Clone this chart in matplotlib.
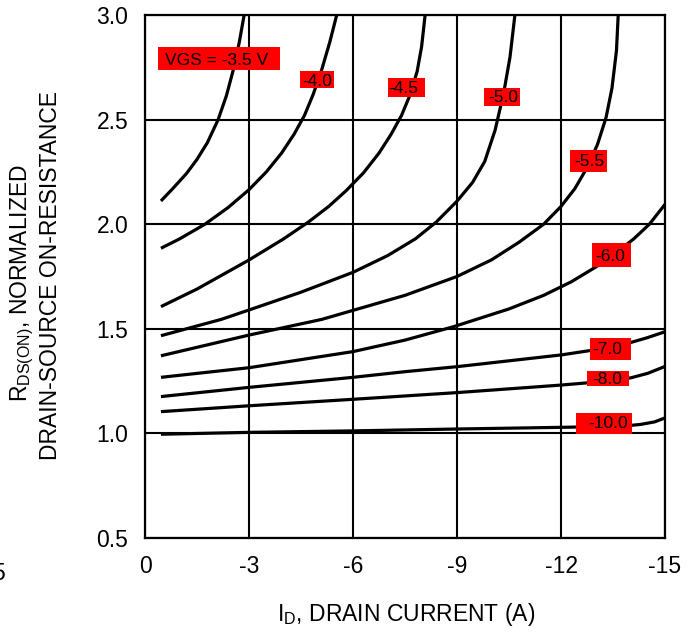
import matplotlib
matplotlib.use("Agg")
import matplotlib.pyplot as plt
from matplotlib.patches import Rectangle

plt.rcParams['font.family'] = ['Liberation Sans', 'DejaVu Sans']
plt.rcParams['mathtext.fontset'] = 'custom'
plt.rcParams['mathtext.rm'] = 'Liberation Sans'
plt.rcParams['mathtext.it'] = 'Liberation Sans'
plt.rcParams['axes.unicode_minus'] = False

# ---------------- data ----------------
vgs_labels = ["VGS = -3.5 V", "-4.0", "-4.5", "-5.0", "-5.5", "-6.0", "-7.0", "-8.0", "-10.0"]

id_35 = [-0.46, -0.8, -1.2, -1.5, -1.8, -2.11, -2.35, -2.55, -2.72, -2.86]
r_35 = [2.111, 2.17, 2.243, 2.31, 2.39, 2.50, 2.615, 2.74, 2.87, 3.0]

id_40 = [-0.46, -1.0, -1.73, -2.4, -3.0, -3.5, -3.94, -4.3, -4.6, -4.85, -5.1, -5.33, -5.53]
r_40 = [1.885, 1.93, 2.0, 2.08, 2.165, 2.25, 2.34, 2.43, 2.52, 2.62, 2.74, 2.87, 3.0]

id_45 = [-0.46, -1.5, -3.0, -4.0, -4.71, -5.3, -5.8, -6.3, -6.75, -7.1, -7.4, -7.65, -7.85, -7.98, -8.08]
r_45 = [1.606, 1.69, 1.829, 1.93, 2.01, 2.085, 2.16, 2.245, 2.34, 2.43, 2.52, 2.62, 2.73, 2.85, 3.0]

id_50 = [-0.46, -2.2, -3.0, -4.5, -6.0, -7.0, -7.8, -8.4, -9.0, -9.45, -9.8, -10.1, -10.35, -10.53, -10.67]
r_50 = [1.467, 1.545, 1.590, 1.675, 1.77, 1.85, 1.93, 2.01, 2.11, 2.2, 2.3, 2.45, 2.63, 2.8, 3.0]

id_55 = [-0.46, -3.0, -5.1, -7.5, -9.0, -10.0, -10.8, -11.5, -12.0, -12.4, -12.75, -13.05, -13.3,
         -13.47, -13.6, -13.65]
r_55 = [1.371, 1.470, 1.545, 1.66, 1.75, 1.83, 1.915, 2.0, 2.085, 2.17, 2.27, 2.38, 2.51,
        2.65, 2.83, 3.0]

id_60 = [-0.46, -3.0, -6.0, -7.5, -8.9, -10.5, -11.5, -12.3, -13.0, -13.6, -14.1, -14.55, -15.0]
r_60 = [1.268, 1.314, 1.391, 1.446, 1.51, 1.595, 1.66, 1.725, 1.795, 1.865, 1.93, 2.0, 2.095]

id_70 = [-0.46, -3.0, -6.0, -7.5, -9.0, -12.0, -13.0, -14.0, -14.5, -15.0]
r_70 = [1.176, 1.220, 1.268, 1.295, 1.319, 1.375, 1.40, 1.434, 1.458, 1.486]

id_80 = [-0.46, -3.0, -6.0, -7.5, -9.0, -12.0, -13.0, -14.0, -14.5, -15.0]
r_80 = [1.104, 1.132, 1.163, 1.179, 1.195, 1.231, 1.245, 1.265, 1.287, 1.32]

id_100 = [-0.46, -3.0, -6.0, -9.0, -12.0, -13.0, -13.8, -14.3, -14.7, -15.0]
r_100 = [0.996, 1.005, 1.012, 1.021, 1.029, 1.032, 1.035, 1.043, 1.055, 1.074]

curves = [(id_35, r_35), (id_40, r_40), (id_45, r_45), (id_50, r_50), (id_55, r_55),
          (id_60, r_60), (id_70, r_70), (id_80, r_80), (id_100, r_100)]

x_ticks = [0, -3, -6, -9, -12, -15]
x_tick_labels = ["0", "-3", "-6", "-9", "-12", "-15"]
y_ticks = [0.5, 1.0, 1.5, 2.0, 2.5, 3.0]
y_tick_labels = ["0.5", "1.0", "1.5", "2.0", "2.5", "3.0"]

# ---------------- label layout (box: x0, x1, y0, y1 ; text: x, y) -------------
label_boxes = [(-0.375, -3.894, 2.737, 2.847), (-4.471, -5.452, 2.651, 2.732),
               (-7.010, -8.077, 2.608, 2.699), (-9.779, -10.817, 2.565, 2.651),
               (-12.26, -13.33, 2.250, 2.355), (-12.894, -14.019, 1.795, 1.910),
               (-12.837, -14.019, 1.351, 1.456), (-12.75, -13.96, 1.227, 1.298),
               (-12.433, -14.048, 0.997, 1.098)]
label_text_pos = [(-2.077, 2.783), (-4.961, 2.681), (-7.442, 2.651), (-10.327, 2.604),
                  (-12.808, 2.302), (-13.428, 1.845), (-13.341, 1.401), (-13.341, 1.259),
                  (-13.356, 1.045)]

# ---------------- figure ----------------
fig = plt.figure(figsize=(6.94, 6.35), dpi=100)
ax = fig.add_axes([145 / 694, 1 - 538 / 635, 520 / 694, 523 / 635])

ax.set_xlim(0, -15)
ax.set_ylim(0.5, 3.0)
ax.set_xticks(x_ticks)
ax.set_xticklabels(x_tick_labels)
ax.set_yticks(y_ticks)
ax.set_yticklabels(y_tick_labels)
ax.tick_params(axis='both', length=0, labelsize=16.5, colors='black')
ax.tick_params(axis='x', pad=12)
ax.tick_params(axis='y', pad=12)
ax.grid(True, color='black', linewidth=1.5, zorder=1)
ax.set_axisbelow(True)
for s in ax.spines.values():
    s.set_linewidth(1.6)
    s.set_color('black')
    s.set_zorder(5)

for xs, ys in curves:
    ax.plot(xs, ys, color='black', linewidth=2.3, solid_capstyle='butt',
            solid_joinstyle='round', zorder=3, clip_on=True)

for (x0, x1, y0, y1), (tx, ty), lab in zip(label_boxes, label_text_pos, vgs_labels):
    ax.add_patch(Rectangle((x0, y0), x1 - x0, y1 - y0, facecolor='#ff0000',
                           edgecolor='none', zorder=4))
    ax.text(tx, ty, lab, ha='center', va='center', fontsize=12.5, color='black', zorder=6)

fig.text(406 / 694, 1 - 615 / 635, r'I$_{\mathregular{D}}$, DRAIN CURRENT (A)',
         ha='center', va='center', fontsize=16.5)
fig.text(22.5 / 694, 1 - 283.5 / 635, r'R$_{\mathregular{DS(ON)}}$, NORMALIZED',
         ha='center', va='center', rotation=90, fontsize=16.5)
fig.text(51 / 694, 1 - 275 / 635, 'DRAIN-SOURCE ON-RESISTANCE',
         ha='center', va='center', rotation=90, fontsize=16.5)
fig.text(5 / 694, 1 - 574 / 635, '5', ha='right', va='center', fontsize=16.5)

fig.savefig('out.png', dpi=100)
